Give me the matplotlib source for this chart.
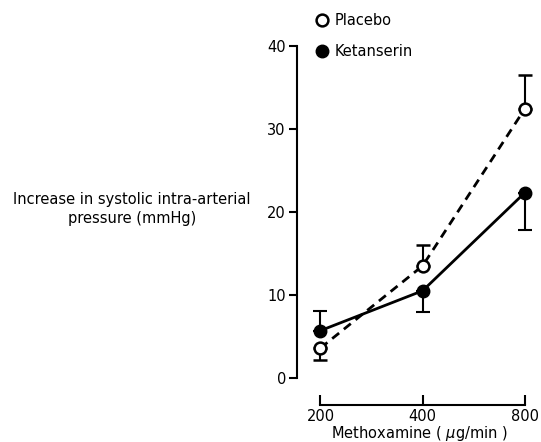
import matplotlib
matplotlib.use("Agg")
import matplotlib.pyplot as plt
from matplotlib.lines import Line2D

# methoxamine doses (equally spaced on the plot)
doses = ["200", "400", "800"]

placebo = [3.6, 13.5, 32.4]
placebo_err_low = [1.5, 0.0, 0.0]
placebo_err_high = [0.0, 2.5, 4.1]

ketanserin = [5.7, 10.5, 22.3]
ketanserin_err_low = [0.0, 2.5, 4.5]
ketanserin_err_high = [2.4, 0.0, 0.0]

y_ticks = [0, 10, 20, 30, 40]

fig = plt.figure(figsize=(5.41, 4.42), dpi=100)
ax = fig.add_axes([0.549, 0.084, 0.451, 0.812])

x = list(range(len(doses)))

ax.errorbar(x, placebo, yerr=[placebo_err_low, placebo_err_high],
            color="black", linestyle=(0, (3.2, 2.2)), linewidth=2.0,
            marker="o", markersize=8.5, markerfacecolor="white",
            markeredgecolor="black", markeredgewidth=1.8,
            ecolor="black", elinewidth=1.5, capsize=5, capthick=1.5, zorder=3)
ax.errorbar(x, ketanserin, yerr=[ketanserin_err_low, ketanserin_err_high],
            color="black", linestyle="-", linewidth=2.0,
            marker="o", markersize=9, markerfacecolor="black",
            markeredgecolor="black",
            ecolor="black", elinewidth=1.5, capsize=5, capthick=1.5, zorder=3)

ax.set_xlim(-0.23, 2.16)
ax.set_ylim(-3.25, 40)
ax.set_yticks(y_ticks)
ax.set_xticks(x)
ax.set_xticklabels(doses)

for side in ("top", "right"):
    ax.spines[side].set_visible(False)
ax.spines["left"].set_bounds(0, 40)
ax.spines["bottom"].set_bounds(0, 2)
ax.spines["left"].set_linewidth(1.5)
ax.spines["bottom"].set_linewidth(1.5)

ax.tick_params(axis="y", direction="out", length=6, width=1.5, labelsize=10.5, pad=2)
ax.tick_params(axis="x", direction="in", length=7, width=1.5, labelsize=10.5, pad=3)
ax.set_xlabel("Methoxamine ( $\\mu$g/min )", fontsize=10.5, labelpad=0)

fig.text(0.244, 0.527, "Increase in systolic intra-arterial\npressure (mmHg)",
         ha="center", va="center", fontsize=10.5, linespacing=1.3)

handles = [
    Line2D([], [], linestyle="none", marker="o", markersize=8.5,
           markerfacecolor="white", markeredgecolor="black", markeredgewidth=1.8),
    Line2D([], [], linestyle="none", marker="o", markersize=9,
           markerfacecolor="black", markeredgecolor="black"),
]
fig.legend(handles, ["Placebo", "Ketanserin"], loc="upper left",
           bbox_to_anchor=(0.561, 1.0), frameon=False, fontsize=10.5,
           handlelength=0.8, handletextpad=0.4, labelspacing=1.1)

fig.savefig("out.png", dpi=100)
